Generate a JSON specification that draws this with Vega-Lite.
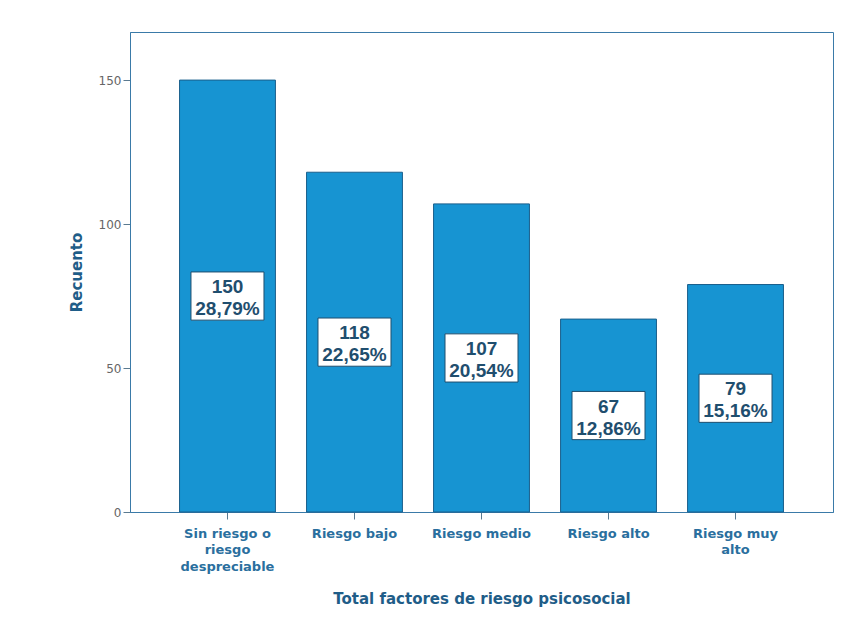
{
  "$schema": "https://vega.github.io/schema/vega-lite/v6.json",
  "width": 703,
  "height": 480,
  "padding": {"left": 130, "top": 32, "right": 15, "bottom": 117},
  "autosize": {"type": "none"},
  "background": "white",
  "config": {
    "view": {"stroke": "#3a7aa8", "strokeWidth": 1},
    "font": "DejaVu Sans"
  },
  "data": {
    "values": [
      {"cat": "Sin riesgo o riesgo despreciable", "n": 150, "lab": ["150", "28,79%"]},
      {"cat": "Riesgo bajo", "n": 118, "lab": ["118", "22,65%"]},
      {"cat": "Riesgo medio", "n": 107, "lab": ["107", "20,54%"]},
      {"cat": "Riesgo alto", "n": 67, "lab": ["67", "12,86%"]},
      {"cat": "Riesgo muy alto", "n": 79, "lab": ["79", "15,16%"]}
    ]
  },
  "transform": [{"calculate": "datum.n / 2", "as": "mid"}],
  "encoding": {
    "x": {
      "field": "cat",
      "type": "nominal",
      "sort": null,
      "scale": {"paddingInner": 0.245, "paddingOuter": 0.39},
      "axis": {
        "title": "Total factores de riesgo psicosocial",
        "titleFont": "DejaVu Sans",
        "titleFontSize": 15,
        "titleFontWeight": "bold",
        "titleColor": "#1f5d88",
        "titlePadding": 18,
        "labelAngle": 0,
        "labelFont": "DejaVu Sans",
        "labelFontSize": 13,
        "labelFontWeight": "bold",
        "labelColor": "#2a6f9e",
        "labelLineHeight": 16.5,
        "labelPadding": 8,
        "labelExpr": "datum.label == 'Sin riesgo o riesgo despreciable' ? ['Sin riesgo o', 'riesgo', 'despreciable'] : datum.label == 'Riesgo muy alto' ? ['Riesgo muy', 'alto'] : datum.label",
        "tickColor": "#5a7a90",
        "tickSize": 7,
        "domainColor": "#3a7aa8"
      }
    }
  },
  "layer": [
    {
      "mark": {"type": "bar", "fill": "#1794d2", "stroke": "#1a5f8c", "strokeWidth": 1},
      "encoding": {
        "y": {
          "field": "n",
          "type": "quantitative",
          "scale": {"domain": [0, 166.7], "nice": false},
          "axis": {
            "title": "Recuento",
            "titleFont": "DejaVu Sans",
            "titleFontSize": 15,
            "titleFontWeight": "bold",
            "titleColor": "#1f5d88",
            "titlePadding": 14,
            "values": [0, 50, 100, 150],
            "labelFont": "DejaVu Sans",
            "labelFontSize": 12,
            "labelColor": "#666666",
            "labelPadding": 2,
            "tickColor": "#5a7a90",
            "tickSize": 7,
            "grid": false,
            "domainColor": "#3a7aa8"
          }
        }
      }
    },
    {
      "mark": {
        "type": "point",
        "shape": "M-1,-0.66 L1,-0.66 L1,0.66 L-1,0.66 Z",
        "size": 5329,
        "filled": true,
        "fill": "white",
        "stroke": "#1f4e6e",
        "strokeWidth": 1,
        "opacity": 1
      },
      "encoding": {
        "y": {"field": "mid", "type": "quantitative"}
      }
    },
    {
      "mark": {
        "type": "text",
        "fontSize": 19,
        "fontWeight": "bold",
        "font": "Liberation Sans",
        "color": "#1f4e6e",
        "baseline": "middle",
        "align": "center",
        "lineHeight": 22,
        "dy": -9
      },
      "encoding": {
        "y": {"field": "mid", "type": "quantitative"},
        "text": {"field": "lab"}
      }
    }
  ]
}
